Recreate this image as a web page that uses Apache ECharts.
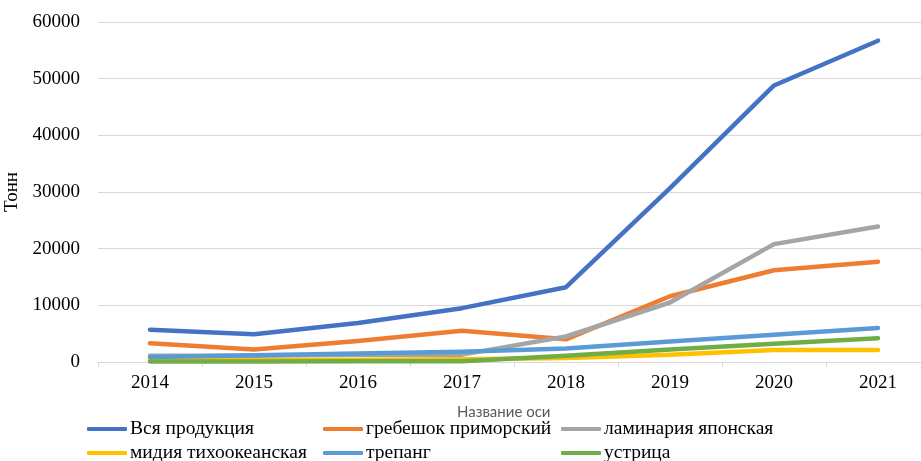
<!DOCTYPE html>
<html><head><meta charset="utf-8">
<script src="https://cdn.jsdelivr.net/npm/echarts@6/dist/echarts.min.js"></script>
<style>html,body{margin:0;padding:0;background:#fff}#c{width:921px;height:461px}</style>
</head><body><div id="c"></div>
<script>
const categories = ['2014','2015','2016','2017','2018','2019','2020','2021'];
const seriesNames = ['Вся продукция','гребешок приморский','ламинария японская','мидия тихоокеанская','трепанг','устрица'];
const allProducts = [5700, 4900, 6900, 9500, 13200, 30700, 48800, 56700];
const scallop = [3300, 2200, 3700, 5500, 4000, 11600, 16200, 17700];
const kelp = [1100, 1100, 1300, 1300, 4500, 10500, 20800, 23900];
const mussel = [300, 300, 400, 500, 700, 1300, 2100, 2100];
const trepang = [900, 1200, 1500, 1800, 2400, 3600, 4800, 6000];
const oyster = [100, 100, 150, 150, 1100, 2200, 3200, 4200];
const yTicks = [0, 10000, 20000, 30000, 40000, 50000, 60000];
const xAxisTitle = 'Название оси';
const yAxisTitle = 'Тонн';

const colors = ['#4472C4','#ED7D31','#A5A5A5','#FFC000','#5B9BD5','#70AD47'];
const values = [allProducts, scallop, kelp, mussel, trepang, oyster];
const serif = '"Liberation Serif","Times New Roman",serif';

const chart = echarts.init(document.getElementById('c'));
const legendLefts = [87, 323, 561, 87, 323, 561];
const legendTops = [419, 419, 419, 443, 443, 443];
const legends = seriesNames.map((n, i) => ({
  orient: 'horizontal', left: legendLefts[i], top: legendTops[i], padding: 0,
  itemWidth: 40, itemHeight: 4, icon: 'roundRect', data: [n],
  textStyle: { fontFamily: serif, fontSize: 19.5, color: '#000', padding: [0,0,0,-2] }
}));
chart.setOption({
  animation: false,
  color: colors,
  graphic: [{ type: 'text', left: 457, top: 405, style: { text: xAxisTitle, fontFamily: 'Lato,"Noto Sans",sans-serif', fontSize: 15, fill: '#595959' } }],
  legend: legends,
  grid: { left: 98, right: -9, top: 22, bottom: 99, containLabel: false, outerBoundsMode: 'none' },
  xAxis: {
    type: 'category', data: categories, boundaryGap: true,
    axisLine: { lineStyle: { color: '#D9D9D9', width: 1 } },
    axisTick: { show: true, length: 5, lineStyle: { color: '#D9D9D9' } },
    axisLabel: { fontFamily: serif, fontSize: 19, color: '#000', margin: 12 }
  },
  yAxis: {
    type: 'value', min: 0, max: 60000, interval: 10000,
    name: yAxisTitle, nameLocation: 'middle', nameRotate: 90, nameGap: 67,
    nameTextStyle: { fontFamily: serif, fontSize: 19, color: '#000' },
    axisLine: { show: false }, axisTick: { show: false },
    splitLine: { lineStyle: { color: '#D9D9D9', width: 1 } },
    axisLabel: { fontFamily: serif, fontSize: 19, color: '#000', margin: 18,
      formatter: v => yTicks.includes(v) ? String(v) : '' }
  },
  series: values.map((d, i) => ({
    name: seriesNames[i], type: 'line', data: d, showSymbol: false, symbol: 'none',
    lineStyle: { width: 4.5, color: colors[i], cap: 'round', join: 'round' },
    itemStyle: { color: colors[i] }
  }))
});
</script></body></html>
